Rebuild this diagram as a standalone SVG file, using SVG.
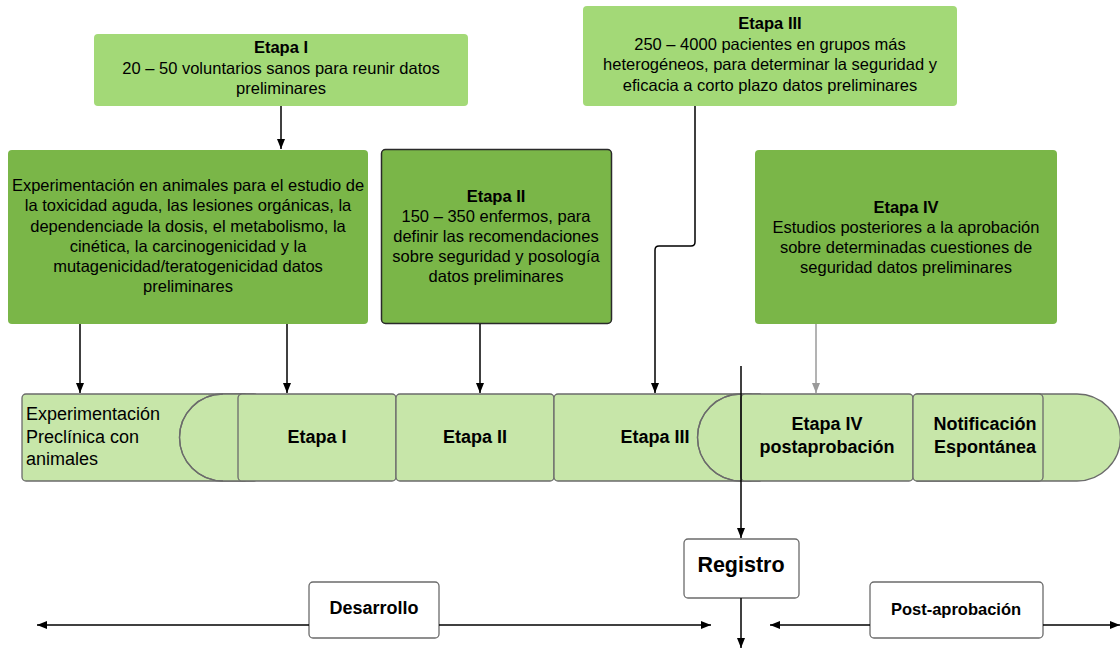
<svg xmlns="http://www.w3.org/2000/svg" width="1120" height="648" viewBox="0 0 1120 648">
  <defs>
    <marker id="arr" viewBox="0 0 10 10" refX="10" refY="5" markerWidth="10" markerHeight="10" markerUnits="userSpaceOnUse" orient="auto">
      <path d="M0,1 L10,5 L0,9 z" fill="#000"/>
    </marker>
    <marker id="arrGray" viewBox="0 0 10 10" refX="10" refY="5" markerWidth="10" markerHeight="10" markerUnits="userSpaceOnUse" orient="auto">
      <path d="M0,1 L10,5 L0,9 z" fill="#9a9a9a"/>
    </marker>
  </defs>
  <style>
    text { font-family: "Liberation Sans", Arial, sans-serif; fill: #000; }
    .t { font-size: 16.5px; text-anchor: middle; }
    .b { font-weight: bold; }
    .top { fill: #a3d977; }
    .mid { fill: #7ab648; }
    .bar { fill: #c7e6a9; stroke: #6b6b6b; stroke-width: 1.3; }
    .bt { font-size: 18px; font-weight: bold; text-anchor: middle; }
    .lbl { fill: #fff; stroke: #6b6b6b; stroke-width: 1.3; }
    .ln { fill: none; stroke: #000; stroke-width: 1.5; }
  </style>

  <rect width="1120" height="648" fill="#fff"/>

  <!-- upper description boxes -->
  <g id="etapa1-desc">
    <rect class="top" x="94" y="34" width="374" height="72" rx="4"/>
    <text class="t b" x="281" y="53">Etapa I</text>
    <text class="t" x="281" y="74">20 – 50 voluntarios sanos para reunir datos</text>
    <text class="t" x="281" y="94">preliminares</text>
  </g>

  <g id="etapa3-desc">
    <rect class="top" x="583" y="6" width="374" height="100" rx="4"/>
    <text class="t b" x="770" y="29">Etapa III</text>
    <text class="t" x="770" y="50">250 – 4000 pacientes en grupos más</text>
    <text class="t" x="770" y="70">heterogéneos, para determinar la seguridad y</text>
    <text class="t" x="770" y="91">eficacia a corto plazo datos preliminares</text>
  </g>

  <g id="preclinica-desc">
    <rect class="mid" x="8" y="150" width="360" height="174" rx="4"/>
    <text class="t" x="188" y="191">Experimentación en animales para el estudio de</text>
    <text class="t" x="188" y="211">la toxicidad aguda, las lesiones orgánicas, la</text>
    <text class="t" x="188" y="232">dependenciade la dosis, el metabolismo, la</text>
    <text class="t" x="188" y="252">cinética, la carcinogenicidad y la</text>
    <text class="t" x="188" y="272">mutagenicidad/teratogenicidad datos</text>
    <text class="t" x="188" y="292">preliminares</text>
  </g>

  <g id="etapa2-desc">
    <rect class="mid" x="381.5" y="149.5" width="230" height="174" rx="4" stroke="#2a2a2a" stroke-width="1.5"/>
    <text class="t b" x="496" y="202">Etapa II</text>
    <text class="t" x="496" y="222">150 – 350 enfermos, para</text>
    <text class="t" x="496" y="242">definir las recomendaciones</text>
    <text class="t" x="496" y="262">sobre seguridad y posología</text>
    <text class="t" x="496" y="282">datos preliminares</text>
  </g>

  <g id="etapa4-desc">
    <rect class="mid" x="755" y="150" width="302" height="174" rx="4"/>
    <text class="t b" x="906" y="213">Etapa IV</text>
    <text class="t" x="906" y="233">Estudios posteriores a la aprobación</text>
    <text class="t" x="906" y="253">sobre determinadas cuestiones de</text>
    <text class="t" x="906" y="273">seguridad datos preliminares</text>
  </g>

  <!-- timeline bar -->
  <g id="fase-preclinica">
    <rect class="bar" x="22" y="394" width="236" height="87" rx="4"/>
    <path class="bar" d="M223,394 A43.5,43.5 0 0 0 223,481 L245,481 L245,394 z" stroke="none"/>
    <path d="M223,394 A43.5,43.5 0 0 0 223,481" fill="none" stroke="#6b6b6b" stroke-width="1.3"/>
    <text x="26" y="420" font-size="18">Experimentación</text>
    <text x="26" y="443" font-size="18">Preclínica con</text>
    <text x="26" y="465" font-size="18">animales</text>
  </g>

  <g id="fase-etapa1">
    <rect class="bar" x="238" y="394" width="158" height="87" rx="4"/>
    <text class="bt" x="317" y="443">Etapa I</text>
  </g>

  <g id="fase-etapa2">
    <rect class="bar" x="396" y="394" width="158" height="87" rx="4"/>
    <text class="bt" x="475" y="443">Etapa II</text>
  </g>

  <g id="fase-etapa3">
    <rect class="bar" x="554" y="394" width="200" height="87" rx="4"/>
    <path class="bar" d="M741,394 A43.5,43.5 0 0 0 741,481 L760,481 L760,394 z" stroke="none"/>
    <path d="M741,394 A43.5,43.5 0 0 0 741,481" fill="none" stroke="#6b6b6b" stroke-width="1.3"/>
    <text class="bt" x="655" y="443">Etapa III</text>
  </g>

  <g id="fase-etapa4">
    <rect class="bar" x="741" y="394" width="172" height="87" rx="4"/>
    <text class="bt" x="827" y="430">Etapa IV</text>
    <text class="bt" x="827" y="453">postaprobación</text>
  </g>

  <g id="fase-notificacion">
    <path class="bar" d="M917,394 L1077,394 A43.5,43.5 0 0 1 1077,481 L917,481 z"/>
    <rect class="bar" x="913" y="394" width="130" height="87" rx="4"/>
    <text class="bt" x="985" y="430">Notificación</text>
    <text class="bt" x="985" y="453">Espontánea</text>
  </g>

  <!-- bottom labels -->
  <g id="registro">
    <rect class="lbl" x="684" y="539" width="115" height="59" rx="4"/>
    <text x="741" y="572" font-size="21.5" font-weight="bold" text-anchor="middle">Registro</text>
  </g>

  <g id="desarrollo">
    <rect class="lbl" x="309" y="582" width="130" height="56" rx="4"/>
    <text class="bt" x="374" y="614">Desarrollo</text>
  </g>

  <g id="post-aprobacion">
    <rect class="lbl" x="870" y="582" width="173" height="56" rx="4"/>
    <text class="t b" x="956" y="615">Post-aprobación</text>
  </g>

  <!-- connectors -->
  <g id="connectors">
    <path class="ln" d="M281,106 L281,149" marker-end="url(#arr)"/>
    <path class="ln" d="M80,324 L80,393" marker-end="url(#arr)"/>
    <path class="ln" d="M287,324 L287,393" marker-end="url(#arr)"/>
    <path class="ln" d="M480,324 L480,393" marker-end="url(#arr)"/>
    <path class="ln" d="M695,106 L695,242 Q695,246 691,246 L659,246 Q655,246 655,250 L655,393" marker-end="url(#arr)"/>
    <path d="M816,324 L816,393" fill="none" stroke="#9a9a9a" stroke-width="1.5" marker-end="url(#arrGray)"/>
    <path class="ln" d="M741,366 L741,538" marker-end="url(#arr)"/>
    <path class="ln" d="M741,598 L741,648" marker-end="url(#arr)"/>
    <path class="ln" d="M309,625 L37,625" marker-end="url(#arr)"/>
    <path class="ln" d="M439,625 L711,625" marker-end="url(#arr)"/>
    <path class="ln" d="M870,625 L770,625" marker-end="url(#arr)"/>
    <path class="ln" d="M1043,625 L1120,625" marker-end="url(#arr)"/>
  </g>
</svg>
